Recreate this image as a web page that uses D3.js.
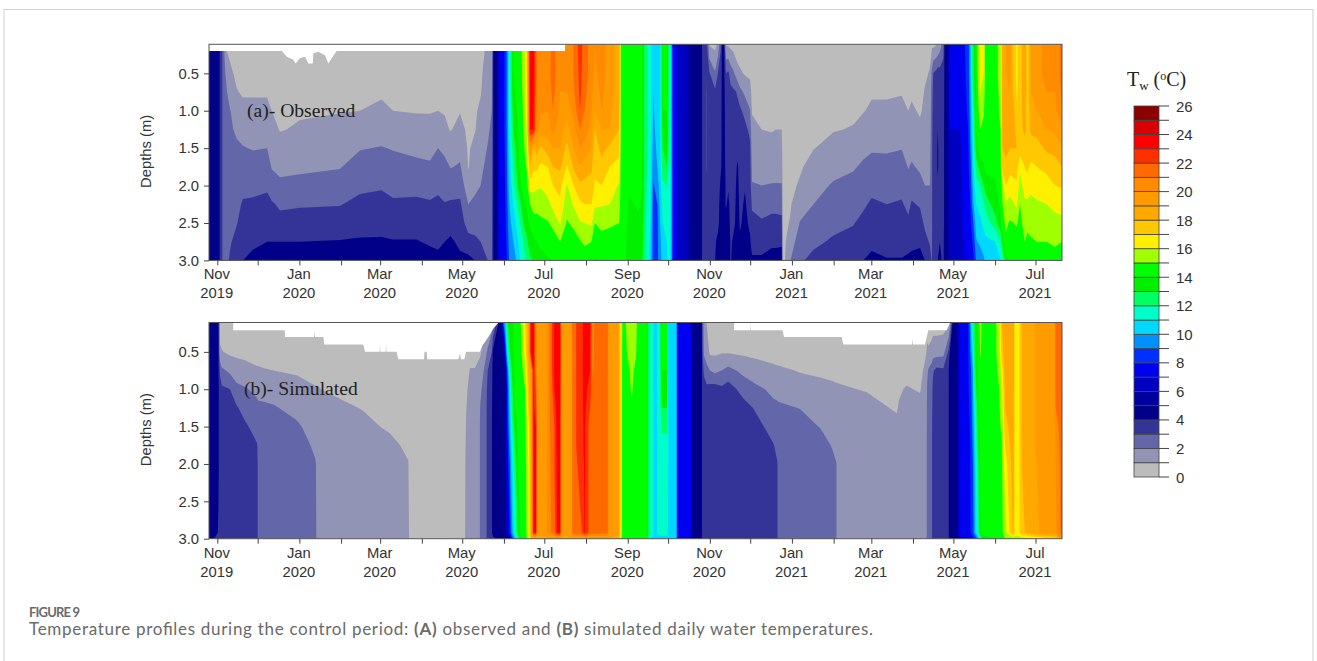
<!DOCTYPE html>
<html><head><meta charset="utf-8">
<script src="https://cdnjs.cloudflare.com/ajax/libs/d3/7.8.5/d3.min.js"></script>
<style>html,body{margin:0;padding:0;background:#fff}svg{display:block}</style></head>
<body><svg id="c" width="1317" height="661"></svg>
<script>
// Water temperature (deg C). First entry of a profile: days since 1 Nov 2019.
const obsDepths=[0.11,0.5,0.75,1,1.25,1.5,1.75,2,2.25,2.5,2.75,3];
const obsProfiles=[
[-6.2,4.6,4.6,4.6,4.6,4.6,4.6,4.6,4.6,4.6,4.6,4.6,4.6],
[1,4.5,4.5,4.5,4.5,4.5,4.5,4.5,4.5,4.5,4.5,4.5,4.5],
[2.5,3.5,3.5,3.5,3.5,3.5,3.5,3.5,3.5,3.5,3.5,3.5,3.5],
[4,2.9,2.9,2.9,2.9,2.9,2.9,2.9,2.9,2.9,2.9,2.9,2.9],
[6,.9,2,2.2,2.3,2.4,2.5,2.5,2.5,2.6,2.6,2.7,2.7],
[9.4,.7,1.2,1.65,2.05,2.15,2.25,2.35,2.5,2.6,2.7,2.9,3.1],
[14.4,.5,.8,1.05,1.45,1.85,2.15,2.35,2.55,2.75,2.95,3.3,3.6],
[19,.5,.7,.9,1.25,1.65,2.05,2.4,2.75,3.1,3.4,3.7,4],
[26.5,.4,.7,.9,1.25,1.6,1.95,2.35,2.75,3.15,3.5,3.85,4.2],
[37,.4,.7,.9,1.25,1.6,2,2.4,2.85,3.25,3.6,4,4.3],
[40.4,.4,.6,.8,1,1.35,1.7,1.95,2.35,3.15,3.6,4,4.3],
[46.6,.4,.6,.75,.85,.95,1.35,1.75,2.2,2.8,3.4,4,4.4],
[61.4,.4,.6,.75,.9,1.1,1.45,1.8,2.3,2.9,3.45,4,4.5],
[91,.4,.6,.8,.95,1.3,1.7,1.95,2.4,2.95,3.5,4.05,4.5],
[106,.4,.65,.85,1,1.45,1.95,2.35,2.8,3.25,3.65,4.1,4.5],
[122,.4,.7,.9,1.15,1.55,2.05,2.45,2.9,3.3,3.7,4.1,4.5],
[130.6,.4,.65,.85,1,1.45,1.95,2.3,2.7,3.15,3.6,4.05,4.5],
[148,.4,.6,.8,.95,1.3,1.75,2.25,2.7,3.2,3.6,4.05,4.45],
[158,.4,.6,.8,.95,1.25,1.7,2.15,2.65,3.1,3.5,3.9,4.3],
[164,.5,.7,.9,1,1.5,2,2.4,2.8,3.2,3.5,3.85,4.2],
[169,.5,.65,.8,.95,1.15,1.8,2.25,2.6,3.05,3.5,4,4.4],
[173.4,.5,.6,.75,.85,.95,1.45,1.95,2.5,3.15,3.65,4.15,4.5],
[180.4,.5,.7,.85,.95,1.3,1.7,2.1,2.65,3.15,3.45,3.8,4.2],
[186.5,.5,.6,.7,.75,.8,.9,.95,1.3,2,2.6,3.35,4.3],
[191.5,.6,.7,.8,.9,.95,1.25,1.5,1.8,2.2,2.6,3.2,4],
[195.7,.8,.9,.95,1.15,1.4,1.65,1.8,2,2.3,2.65,3,3.9],
[201,1.1,1.3,1.5,1.7,1.85,2.05,2.25,2.4,2.5,2.65,2.8,3],
[204,1,1.6,1.8,2,2.2,2.4,2.5,2.6,2.7,2.75,2.8,2.9],
[205.2,4.2,4.2,4.2,4.2,4.2,4.2,4.2,4.2,4.2,4.2,4.2,4.2],
[208,4.9,4.9,4.9,4.9,4.9,4.9,4.9,4.9,4.9,4.9,4.9,4.9],
[209,7,7,7,7,7,7,7,7,7,7,7,7],
[213,7.8,7.8,7.8,7.8,7.8,7.7,7.6,7.5,7.4,7.4,7.3,7.2],
[215,9,9,9,9,9,8.9,8.8,8.7,8.5,8.3,8.1,7.9],
[216.8,11,11,11,10.9,10.8,10.6,10.4,10.2,9.9,9.6,9.3,9],
[220,14,14,13.8,13.5,13,12.5,12,11.6,11.1,10.5,10,9.3],
[224.7,14.5,14.5,14.5,14.4,14.3,14.2,14.1,13.8,12.5,11.8,11.3,10.9],
[227.4,15.5,15.3,15.2,15.1,15,14.8,14.6,14.3,13.8,13,12,11.6],
[230,17,16.8,16.6,16.4,16.1,15.5,15.1,14.6,14.2,13.6,12.8,12.2],
[232.4,23.5,23.5,23.3,23.2,23.1,20,18,16.5,15,14.2,13.5,12.8],
[235,23.4,23.3,23.2,23.1,23,18,17.2,16.4,15.3,14.7,13.8,13.2],
[237.5,21,21,20.8,20.6,20.3,18.5,17.2,16.2,15.3,14.7,14,13.4],
[240.5,20.5,20.4,20.3,20.2,19.5,17.8,16.8,16.1,15.4,14.8,14.2,13.7],
[245.5,20,20.5,20.3,20,19.5,18.5,17,16.4,15.7,14.9,14.4,13.9],
[249.5,21.5,21.5,21.3,21,20.3,19,18,17,16.3,15.3,14.4,14],
[254.7,20,20,20,19.8,19.5,19,18.2,17.3,16.8,16.1,15,14.4],
[259.8,20.5,20.5,20,19.5,18.6,17.7,16.9,15.9,15.4,14.9,14.4,14],
[264.7,21,21,20.8,20.3,19.6,19,18.1,17,16.1,15.2,14.6,14.2],
[269.5,22.5,22.3,22.2,22,21,20,18.9,17.8,16.8,15.9,14.9,14.3],
[273,21.5,21.5,21.3,21,20.5,19.7,18.5,17.7,17,16,15.2,14.4],
[278,20.5,20.5,20.3,20,19.6,19,18.2,17.6,17,16.2,15,14.4],
[280.5,20,19.8,19.5,19,18,17.5,17.2,16.9,16.2,15,14.3,13.9],
[285.5,20.5,20.5,20.2,20,19,18.3,17.7,17,16.1,15.3,14.6,14.2],
[291.7,19.5,19.5,19.5,19.3,19,17.8,17,16.5,16,15.2,14.4,14],
[298.6,18.5,18.5,18.5,18.2,18,17.5,16.5,15.9,15.5,15,14.8,14.2],
[300,14.6,14.6,14.6,14.6,14.6,14.6,14.5,14.5,14.5,14.4,14.3,14],
[303.5,14.5,14.5,14.5,14.5,14.5,14.5,14.5,14.5,14.4,14.3,14.2,14],
[306,14.5,14.5,14.5,14.5,14.5,14.5,14.5,14.1,13.9,13.6,13.4,13.2],
[313,14.5,14.5,14.5,14.5,14.4,14.4,14.3,14.2,14.1,13.8,13.5,13.3],
[315.5,14,14,14,14,14,14,14,14,13.9,13.7,13.5,13.2],
[318,12.5,12.5,12.5,12.5,12.5,12.5,12.5,12.3,12.3,12.2,12.2,12],
[322,11.2,11.2,11.2,11.2,11.2,11.1,11.1,11,11,10.9,10.7,10.5],
[324,10,10,10,9.9,9.8,9.6,9.3,8.9,8.6,8.5,8.4,8.4],
[327,10.5,10.5,10.5,10.4,10.3,10.2,10,9.4,9,8.8,8.8,8.8],
[329,10.9,10.9,10.9,10.8,10.8,10.7,10.7,10.6,10.3,10,9.7,9.5],
[331,14.2,14.2,14.1,14,13.5,13,12.5,11.8,11.3,11,10.7,10.5],
[334,14,14,14,14,13.9,13.6,13,12,11.5,11.2,11,10.8],
[335.5,12.5,12.5,12.5,12.4,12.3,12.2,12,11.8,11.7,11.6,11.5,11.5],
[337,10.8,10.8,10.8,10.8,10.8,10.8,10.8,10.8,10.8,10.8,10.8,10.8],
[338.5,8,8,8,8,8,8,8,8,8,8,8,8],
[342,7,7,7,7,7,7,7,7,7,7,7,7],
[349,6.5,6.5,6.5,6.5,6.5,6.5,6.5,6.5,6.5,6.5,6.5,6.5],
[350.5,5.2,5.2,5.2,5.2,5.2,5.2,5.2,5.2,5.2,5.2,5.2,5.2],
[359.5,4.5,4.5,4.5,4.5,4.5,4.5,4.5,4.5,4.5,4.5,4.5,4.5],
[360.5,3.7,3.7,3.7,3.7,3.7,3.7,3.7,3.7,3.7,3.7,3.7,3.7],
[363,3.5,3.5,3.5,3.5,3.5,3.5,3.5,3.5,3.5,3.5,3.5,3.5],
[363.7,3.2,3.1,2.9,2.9,2.9,2.9,2.9,3.2,3.3,3.4,3.4,3.4],
[364.4,2.8,3.4,3.5,3.5,3.5,3.5,3.5,3.5,3.5,3.5,3.5,3.5],
[365.6,.9,3.1,3.3,3.4,3.4,3.4,3.5,3.5,3.5,3.5,3.6,3.6],
[369.9,.7,2.1,3.2,3.4,3.5,3.5,3.6,3.6,3.6,3.7,3.9,4],
[372,1.2,3,3.4,3.5,3.6,3.6,3.7,3.7,3.8,3.8,4.2,4.4],
[374,2.8,3.6,3.7,3.7,3.8,3.8,3.9,4.1,4.2,4.3,4.4,4.5],
[375,4.1,4.1,4.1,4.1,4.1,4.1,4.1,4.1,4.2,4.3,4.4,4.5],
[376.5,4.3,4.3,4.3,4.3,4.3,4.3,4.3,4.3,4.3,4.3,4.4,4.5],
[378,.9,3,3.5,3.6,3.7,3.7,3.8,3.9,3.9,4.3,4.4,4.5],
[379.7,.8,3.2,3.4,3.5,3.6,3.7,3.8,3.9,4.2,4.3,4.4,4.4],
[381.5,.7,2.5,3.3,3.4,3.5,3.6,3.6,3.7,3.7,3.8,3.9,3.9],
[383.4,.6,2.2,3.2,3.3,3.4,3.5,3.6,3.7,3.7,3.8,4.1,4.3],
[386.7,.4,1.3,2.9,3.2,3.5,3.8,4.1,4.2,4.3,4.3,4.4,4.5],
[388.4,.4,1.15,2.3,3.2,3.4,3.5,3.6,3.7,3.8,3.9,4.1,4.4],
[392,.4,.9,1.8,2.7,3.3,3.5,3.7,3.95,4.1,4.2,4.3,4.4],
[395.9,.4,.8,1.4,2.05,2.75,3.2,3.4,3.5,3.7,3.85,4.1,4.5],
[397.3,.4,.55,.7,.95,1.2,1.5,1.8,2.05,2.85,3.3,3.75,4.1],
[404.5,.4,.6,.7,.85,1,1.35,1.7,2,2.5,3.15,3.75,4.1],
[412,.4,.6,.7,.8,.95,1.25,1.65,2.05,2.7,3.3,3.9,4.2],
[415,.4,.6,.7,.85,1,1.4,1.7,2.05,2.7,3.3,3.9,4.2],
[419.4,.4,.6,.7,.85,1,1.3,1.65,2.05,2.65,3.25,3.85,4.4],
[420.2,.6,.6,.6,.6,.6,.6,.6,.6,.6,.7,.8,.9],
[422,.4,.45,.5,.5,.55,.6,.65,.7,.75,.85,.95,1],
[425.6,.4,.45,.5,.55,.6,.65,.7,.8,.9,1.05,1.5,1.95],
[433,.4,.5,.55,.6,.7,.8,.9,1.1,1.6,2.05,2.5,2.9],
[443,.4,.5,.6,.7,.85,.97,1.3,1.65,2,2.4,2.85,3.2],
[457.8,.4,.5,.6,.75,.95,1.3,1.7,2.1,2.45,2.8,3.1,3.4],
[472.6,.4,.55,.7,.85,1.05,1.45,1.9,2.3,2.7,2.95,3.3,3.6],
[480,.4,.6,.8,.95,1.35,1.75,2.15,2.5,2.85,3.25,3.6,4],
[486.3,.45,.7,.9,1.15,1.55,1.9,2.3,2.7,3.15,3.5,3.8,4.2],
[497.4,.45,.7,.9,1.15,1.5,1.9,2.25,2.6,3,3.35,3.7,4.05],
[508.6,.45,.75,.95,1.2,1.6,1.97,2.35,2.7,3.1,3.4,3.7,4.05],
[513.5,.45,.7,.85,1,1.3,1.6,1.95,2.35,2.75,3.2,3.65,4.2],
[516,.45,.7,.9,1.1,1.45,1.75,2.1,2.6,3.1,3.5,3.8,4.2],
[522.2,.5,.7,.8,.92,1.15,1.5,1.85,2.3,2.9,3.4,3.9,4.2],
[525.9,.7,.9,1.05,1.15,1.35,1.5,1.75,2,2.5,2.8,3.3,4],
[529.6,.8,1.05,1.2,1.35,1.5,1.65,1.8,2,2.3,2.6,2.9,3.4],
[531,.8,2.2,2.6,2.7,2.8,2.85,2.85,2.9,2.9,2.9,2.9,2.9],
[532,.7,3,3.2,3.3,3.3,3.4,3.4,3.4,3.4,3.5,3.6,3.7],
[534.6,.95,3.3,3.5,3.6,3.7,3.8,3.8,3.7,3.7,3.7,3.7,3.7],
[535.3,1,3.5,3.7,3.8,4,4.1,4.1,3.9,3.8,3.8,3.8,4],
[537,1.5,3.4,3.6,3.6,3.7,3.7,3.7,3.7,3.7,3.8,4,4.1],
[539.5,2.5,3.5,3.6,3.6,3.7,3.7,3.7,3.7,3.7,3.8,3.9,3.9],
[540.5,4.2,4.2,4.2,4.2,4.2,4.2,4.2,4.2,4.2,4.2,4.2,4.2],
[541,4.6,4.6,4.6,4.6,4.6,4.6,4.6,4.6,4.6,4.6,4.6,4.6],
[543,4.95,4.95,4.95,4.95,4.95,4.95,4.95,4.95,4.95,4.95,4.95,4.95],
[544,7.5,7.5,7.3,7.2,7,6.9,6.8,6.7,6.6,6.5,6.4,6.3],
[552,7.2,7,7,7,7,6.9,6.9,6.8,6.8,6.8,6.7,6.6],
[558,8.5,8.5,8.3,8.2,8,7.9,7.8,7.7,7.6,7.5,7.4,7.3],
[559.5,10,9.9,9.7,9.5,9.3,9,8.6,8.3,8,7.8,7.6,7.5],
[561.8,13,12.8,12.5,12,11.7,11.2,10.9,10.5,9.9,9,8.2,7.8],
[564,14.3,14.3,14.2,14.1,14,13.5,12.5,11.6,11,10.5,9.9,9.2],
[566.8,16.3,16.1,16,15.5,15,14.5,13.5,12,11.3,10.8,10.2,9.4],
[569.5,16.2,16,15.5,15.1,14.8,14.3,13.9,13,11.9,11.2,10.6,9.8],
[571,14.4,14.4,14.4,14.4,14.4,14.3,14.2,13.6,12.3,11.5,10.8,10.2],
[578,14.5,14.5,14.5,14.5,14.5,14.4,14.2,13.9,13.6,12.5,11,10.8],
[582,15.5,15.5,15.3,15.2,15,14.8,14.6,14.4,14.1,13.8,12,10.9],
[583.5,18.5,18.5,18.5,18.5,18.2,18,17.6,15.5,15,14.6,13.5,11.5],
[586,19,19,18.8,18.7,18.5,18.2,17.8,17,15.8,15.2,14.8,13.7],
[589,19.5,19.3,19,18.8,18.4,18,17.3,16.6,15.6,14.9,14.6,14.1],
[591.8,17.5,17.5,17.8,18.2,18.4,18,17.4,16.7,15.9,15,14.6,14.2],
[594,16.8,16.8,16.9,17.1,17.6,18,17.5,16.8,16.2,15.1,14.6,14.2],
[596.5,17.4,17.4,17.4,17.5,17.6,17.5,16.2,15.6,15,14.7,14.4,14.2],
[600,19,19,18.8,18.6,18.3,17.5,17,16.4,15.8,15.4,15,14.1],
[602,16.9,16.9,17,17.2,17.5,17.5,17.2,16.6,15.8,15.2,14.8,14.2],
[604.5,19,19,19,18.5,18.2,17.5,16.8,16.3,15.7,15.3,14.9,14.2],
[608.9,19.5,19.5,19.2,19,18.3,17.6,17,16.6,15.8,15.4,15,14.1],
[616.3,20.5,20.5,20,19.5,19,18.2,17.2,16.7,16,15.5,15,14.2],
[622.5,20.3,20.3,20,19.8,19.2,18.3,17.6,17,16.3,15.6,15.2,14.5],
[627.7,21.3,21.3,21.2,21,19.5,19,18,17.1,16.3,15.8,15,14.4]
];
const simDepths=[0.11,0.5,0.75,1,1.25,1.5,1.75,2,2.92,3];
const simProfiles=[
[-6.2,4.6,4.6,4.6,4.6,4.6,4.6,4.6,4.6,4.6,4.6],
[-2.4,4.5,4.5,4.5,4.5,4.5,4.5,4.5,4.5,4.3,4],
[.8,4.1,4.1,4.1,4.1,4.1,4.1,4.1,4.1,3.95,3.5],
[2,.7,1.1,2.8,3.6,3.7,3.7,3.7,3.7,3.7,3.7],
[3.3,.5,1.05,2.2,3.2,3.5,3.6,3.6,3.6,3.6,3.6],
[9.4,.3,.8,1.8,3,3.3,3.5,3.6,3.6,3.6,3.6],
[14.4,.3,.8,1.4,2.3,3.1,3.3,3.5,3.6,3.7,3.7],
[20.6,.3,.75,1.3,2.1,2.65,3.15,3.4,3.5,3.6,3.6],
[29.5,.3,.7,1.1,1.75,2.3,2.65,3.05,3.1,3.1,3.1],
[30.2,.3,.7,1.1,1.7,2.2,2.6,2.9,2.95,2.95,2.95],
[34.2,.3,.7,1.05,1.6,2.2,2.5,2.6,2.6,2.6,2.6],
[41.6,.3,.6,1,1.55,2.1,2.4,2.5,2.5,2.5,2.5],
[59,.3,.55,.9,1.3,1.7,2.15,2.3,2.4,2.4,2.4],
[72.6,.3,.5,.8,1.05,1.4,1.6,1.9,2.05,2.1,2.1],
[74,.3,.5,.8,1.05,1.35,1.55,1.8,1.95,1.95,1.95],
[83.7,.3,.5,.7,.9,1.3,1.6,1.75,1.8,1.8,1.8],
[108.5,.3,.45,.6,.8,.95,1.25,1.5,1.6,1.6,1.6],
[128.3,.3,.4,.5,.6,.7,.85,1.25,1.4,1.45,1.45],
[141.9,.3,.35,.4,.5,.6,.7,.8,1.05,1.3,1.3],
[143,.3,.35,.4,.45,.5,.55,.6,.65,.7,.75],
[170,.3,.4,.5,.5,.6,.6,.6,.7,.7,.8],
[184,.3,.5,.6,.6,.6,.7,.8,.9,.95,.95],
[185,.3,.5,.7,.9,.98,1.1,1.2,1.2,1.2,1.2],
[187.8,.4,.7,1.05,1.2,1.3,1.4,1.4,1.4,1.4,1.4],
[191.5,.4,.7,1.05,1.3,1.5,1.6,1.6,1.6,1.6,1.6],
[195,.5,.85,1.3,1.6,1.9,1.95,1.95,1.95,1.95,1.95],
[195.6,.5,.9,1.4,1.8,2.1,2.2,2.2,2.2,2.2,2.2],
[200,.7,1.9,2.5,2.9,2.95,2.95,2.95,2.95,2.95,2.95],
[201,.8,2.2,3,3.2,3.3,3.3,3.3,3.3,3.3,3.3],
[204,1.5,3,3.7,3.8,3.9,3.95,3.95,3.95,3.95,3.8],
[204.8,1.8,4.2,4.3,4.3,4.3,4.3,4.3,4.3,4.3,3.8],
[208.9,4,4.6,4.6,4.6,4.6,4.6,4.6,4.6,4.6,4.2],
[210.8,5,4.7,4.7,4.7,4.7,4.7,4.7,4.7,4.7,4.5],
[212.6,9,5,4.8,4.8,4.8,4.8,4.8,4.8,4.8,4.6],
[213.8,10,7.5,5,5,5,5,5,5,4.9,4.7],
[215,12.5,10,8,7.5,7.5,7.4,7.2,7,6.5,5],
[216.8,13.5,12.5,11,10,9.8,9.5,9,8.5,7.5,5.5],
[218.7,13.8,13.8,13,12.5,12,11.5,11,10.5,9.5,8],
[221.2,14.2,14.2,14.2,14.1,13.9,13.5,13,12.5,11.5,10],
[223.7,14.5,14.5,14.5,14.5,14.4,14.3,14.2,14.1,13.5,12.5],
[226.2,15.2,15,14.8,14.7,14.6,14.5,14.5,14.5,14.3,14.1],
[228.7,17,16.5,15.5,15,14.9,14.8,14.7,14.6,14.5,14.4],
[231.1,18.5,18.5,18.2,17.7,17.2,16.5,16.2,16,15.8,15.5],
[233.1,23.5,23.5,19.5,19.2,19,18.8,18.7,18.6,18.5,18],
[235,23.5,23.5,23.2,23.2,23.2,23.2,23.2,23.2,23,18.5],
[236.8,20.5,20.5,21,21.8,22.4,23,23,23,23,18.5],
[238,19.5,19.5,19.5,19.5,19.5,19.5,19.6,19.6,19.5,18.3],
[244,19.5,19.5,19.5,19.5,19.5,19.5,19.5,19.5,19.5,18.8],
[246,20.6,20.6,20.6,20.6,20.6,20.6,20.6,20.6,20.6,19],
[249.7,22.5,22.5,22.5,22.3,22,21.8,21.7,21.6,21.3,19],
[250.5,23.4,23.4,23.4,23,22.5,22,22,22,21.5,19],
[252.5,23.4,23.4,23.4,23.4,23.4,23.4,23.4,23.2,23.1,19.5],
[254.7,23.2,23.2,23.2,23.1,23.1,23,23,23,23,19],
[256,19.6,19.6,19.6,19.6,19.6,19.6,19.6,19.6,19.6,19],
[259,19.1,19.1,19.1,19.1,19.1,19.1,19.1,19.1,19.1,18.8],
[263,19.6,19.6,19.6,19.6,19.6,19.6,19.6,19.6,19.6,19],
[264,21.5,21.5,21.5,21.5,21.5,21.5,21.5,21.5,21.5,19],
[271,22.8,22.8,22.8,22.8,22.8,22.8,22.8,22.5,22,19],
[273,23.4,23.4,23.4,23.4,23.3,23.2,23.2,23.2,23.1,19],
[277,23.2,23.1,23,22.5,22,21.5,21.5,21.5,21.5,19],
[279,20.5,20.5,20.8,21.3,21.5,21.5,21.5,21.5,21.5,19],
[281,21.5,21.5,21.5,21.5,21.5,21.5,21.5,21.5,21.5,19],
[290,21.3,21.3,21.3,21.3,21.3,21.3,21.3,21.3,21.3,19],
[291,19.6,19.6,19.6,19.6,19.6,19.6,19.6,19.6,19.6,19],
[298,19.2,19.2,19.2,19.2,19.2,19.2,19.2,19.2,19.2,18.5],
[299.5,17,17,17,17,17,17,17,17,17,16.5],
[301,15,14.8,14.7,14.7,14.7,14.7,14.7,14.7,14.7,14.4],
[302.5,14.7,14.7,14.6,14.6,14.6,14.6,14.6,14.6,14.6,14.4],
[305,15.4,15.1,14.8,14.7,14.6,14.5,14.5,14.5,14.5,14.5],
[308,15.4,15.3,15.2,15.1,14.9,14.6,14.5,14.5,14.5,14.3],
[311,15.3,15.1,14.8,14.6,14.5,14.5,14.5,14.5,14.5,14.3],
[313,14.5,14.5,14.5,14.5,14.4,14.4,14.4,14.4,14.4,14.2],
[319,14,14,14,14,14,14,14,14,14,14],
[320.5,12.5,12.5,12.5,12.5,12.5,12.5,12.5,12.5,12.5,12],
[322,11.7,11.7,11.7,11.7,11.7,11.7,11.7,11.7,11.7,11],
[323.6,11.4,11.4,11.4,11.4,11.4,11.4,11.4,11.4,11.4,10.5],
[324.5,10.7,10.7,10.7,10.7,10.7,10.7,10.7,10.7,10.7,10],
[326.5,10.7,10.7,10.7,10.7,10.7,10.7,10.7,10.7,10.7,10],
[327.5,11.5,11.5,11.5,11.5,11.5,11.5,11.5,11.5,11.5,10.3],
[329,12.2,12.2,12,11.9,11.8,11.7,11.6,11.5,11.5,10.4],
[330.5,14.2,14.2,14,13.8,13,12.2,11.7,11.5,11.5,10.5],
[334,14.1,14.1,14,13.8,13,12.2,11.7,11.5,11.5,10.5],
[335.1,11,11,11,11,11,11,11,11,10.8,10.2],
[336,10.6,10.6,10.6,10.6,10.6,10.6,10.6,10.6,10.6,10.2],
[341,10.4,10.4,10.4,10.4,10.4,10.4,10.4,10.4,10.4,10.2],
[341.8,8,8,8,8,8,8,8,8,8,8],
[352,7.2,7.2,7.2,7.2,7.2,7.2,7.2,7.2,7.2,7.2],
[352.5,6,6,6,6,6,6,6,6,6,6],
[353,5,5,5,5,5,5,5,5,5,5],
[360,4.6,4.6,4.6,4.6,4.6,4.6,4.6,4.6,4.6,4.6],
[360.2,3.5,3.5,3.5,3.5,3.5,3.5,3.5,3.5,3.5,3.5],
[361.7,1.4,1.8,2.8,3.4,3.5,3.5,3.5,3.5,3.5,3.5],
[363.7,.95,1.6,2.2,3.3,3.5,3.5,3.5,3.5,3.5,3.5],
[366.1,.4,.8,2,3.4,3.5,3.5,3.5,3.5,3.5,3.5],
[369.8,.4,.8,1.75,3.5,3.5,3.5,3.5,3.5,3.5,3.5],
[374.8,.4,.9,2,3.2,3.5,3.5,3.5,3.5,3.5,3.5],
[379.7,.4,.9,2.3,3.5,3.6,3.6,3.6,3.6,3.6,3.6],
[390.9,.4,.8,1.75,2.6,3.4,3.5,3.5,3.5,3.5,3.5],
[400.8,.4,.75,1.4,2.2,2.85,3.3,3.5,3.5,3.5,3.5],
[413.2,.3,.65,1.2,1.8,2.2,2.6,3.05,3.2,3.2,3.2],
[416,.3,.6,1.15,1.7,2.2,2.5,2.8,3.05,3.05,3.05],
[416.8,.3,.6,1.15,1.7,2.15,2.45,2.7,2.9,2.9,2.9],
[433,.3,.6,.95,1.4,1.98,2.3,2.6,2.6,2.6,2.6],
[447.9,.3,.55,.85,1.25,1.65,1.97,2.4,2.5,2.5,2.5],
[457.8,.3,.5,.8,1.15,1.4,1.65,1.9,2.15,2.15,2.15],
[460,.3,.5,.8,1.1,1.35,1.6,1.8,2.02,2.02,2.02],
[460.6,.3,.5,.8,1.1,1.3,1.5,1.7,1.9,1.9,1.9],
[482.6,.3,.5,.7,.95,1.25,1.5,1.6,1.6,1.6,1.6],
[504.9,.3,.45,.6,.75,.92,1.2,1.4,1.5,1.5,1.5],
[506.5,.3,.45,.6,.85,1.1,1.3,1.4,1.5,1.5,1.5],
[509.8,.3,.5,.75,1,1.3,1.4,1.5,1.5,1.5,1.5],
[512.3,.3,.5,.8,1.05,1.3,1.5,1.5,1.5,1.5,1.5],
[522.2,.3,.5,.7,.95,1.2,1.4,1.5,1.5,1.5,1.5],
[525.9,.3,.8,1.2,1.3,1.5,1.5,1.6,1.6,1.6,1.6],
[527,.4,1,1.4,1.5,1.6,1.6,1.7,1.7,1.7,1.9],
[527.5,.6,1.2,1.8,2.1,2.3,2.3,2.4,2.4,2.4,2.4],
[528.4,.6,1.1,2.1,2.3,2.4,2.4,2.4,2.4,2.4,2.4],
[531,.6,1.3,2.5,2.7,2.8,2.9,2.9,2.9,2.9,2.9],
[531.8,.6,1.5,2.9,3.2,3.3,3.4,3.4,3.4,3.4,3.4],
[534.6,.6,1.5,3.3,3.4,3.5,3.5,3.5,3.5,3.5,3.5],
[539.5,.6,1.6,3.2,3.5,3.6,3.7,3.7,3.7,3.7,3.7],
[543.2,.7,3.1,3.9,3.9,3.9,3.9,3.9,3.9,3.9,3.9],
[544.5,1.5,4.2,4.3,4.3,4.3,4.3,4.3,4.3,4.3,4.2],
[546.9,4.8,4.8,4.8,4.8,4.8,4.8,4.8,4.8,4.8,4.6],
[550.5,4.9,4.9,4.9,4.9,4.9,4.9,4.9,4.9,4.9,4.7],
[551,7.3,7.3,7.3,7.3,7.3,7.3,7.3,7.3,7.3,6],
[558,7.9,7.9,7.9,7.9,7.8,7.7,7.6,7.6,7.5,7.4],
[559.5,9.5,9,8.5,8.3,8.2,8.1,8,8,7.9,7.7],
[561.5,12.5,11,10,9.8,9.6,9.4,9.2,9,8.6,7.8],
[563,13,13,12.8,12.4,11.5,11,10.7,10.4,10,8.2],
[565.5,14.5,14.3,14.2,14,13.8,13.5,13.2,12.8,12,9.8],
[567,15.3,15.1,14.8,14.6,14.5,14.3,14.2,14.1,13.8,11.5],
[568.9,14.7,14.7,14.6,14.5,14.5,14.5,14.4,14.4,14.3,13.5],
[578.4,14.9,14.9,14.8,14.7,14.6,14.5,14.5,14.5,14.5,14.1],
[581,15.5,15.4,15.2,15,14.9,14.8,14.7,14.6,14.6,14.4],
[583,18,17.6,16.5,16,15.5,15.2,15,14.9,14.8,14.6],
[585.4,18.5,18.5,18.4,18.2,18,17.6,17,16.5,15.5,15],
[591.5,18.8,18.8,18.8,18.8,18.7,18.7,18.6,18.5,18.2,15.5],
[592.5,16.9,16.9,16.9,16.9,16.9,16.9,16.9,16.9,16.9,15.2],
[596,16.9,16.9,16.9,16.9,16.9,16.9,16.9,16.9,16.9,15.3],
[597,17.9,17.9,17.9,17.9,17.9,17.9,17.9,17.9,17.6,15.5],
[604,18.8,18.8,18.8,18.8,18.8,18.8,18.8,18.7,18.5,16],
[613.6,19.3,19.3,19.3,19.3,19.3,19.3,19.3,19.3,19.2,16.5],
[622,19.5,19.5,19.5,19.5,19.5,19.5,19.5,19.5,19.5,17],
[623,21.3,21.3,21.3,21.3,21,20.5,20.3,20,19.8,17],
[627.7,22,22,22,22,21.8,21.6,21.5,21.5,21.5,20]
];
// Depth of the no-data (white) zone at the top of each panel, by day
const obsGapDays=[-6.2,47.8,47.9,51.6,56.5,58.2,61.4,65.2,67.7,70.9,71.4,75,80,82.5,85,88.7,258.4,258.5];
const obsGapDepth=[.2,.2,.2,.28,.32,.37,.3,.28,.37,.37,.23,.21,.26,.37,.3,.2,.2,.11];
const simGapDays=[11.8,11.9,50.2,50.3,71.8,72.1,72.5,78.8,79.5,108.5,109.8,120.6,120.9,121.2,125.1,125.4,125.7,133.3,134.5,153.6,154,155.6,156,179.1,180.4,181,183.6,184.8,195.2,196.4,201.4,205,208.8,384,384.1,396.2,396.4,396.6,420.1,421.1,464,465.2,516.3,516.7,517,525.9,528.4,542,544.5];
const simGapDepth=[.11,.21,.21,.3,.3,.22,.3,.3,.4,.4,.5,.5,.41,.5,.5,.41,.5,.5,.6,.6,.5,.5,.6,.6,.52,.6,.6,.5,.5,.43,.3,.19,.11,.11,.21,.21,.11,.21,.21,.3,.3,.4,.4,.32,.4,.4,.21,.21,.11];
const tickMonths=["2019-11","2019-12","2020-01","2020-02","2020-03","2020-04","2020-05","2020-06","2020-07","2020-08","2020-09","2020-10","2020-11","2020-12","2021-01","2021-02","2021-03","2021-04","2021-05","2021-06","2021-07"];
const monthLabels=["Nov","","Jan","","Mar","","May","","Jul","","Sep","","Nov","","Jan","","Mar","","May","","Jul"];
const yearLabels=["2019","","2020","","2020","","2020","","2020","","2020","","2020","","2021","","2021","","2021","","2021"];
const depthTicks=[0.5,1,1.5,2,2.5,3];
const levels=d3.range(0,26);
const levelColors=["#bcbcbc","#9194b4","#6366a8","#343498","#000088","#00009f","#0000c0","#0000f0","#0030ff","#0090ff","#00d8ff","#00ffc8","#00ff60","#00f000","#00ff00","#a0ff00","#fff000","#ffc800","#ffa800","#ff9a00","#ff8c00","#ff6a00","#ff3000","#ff0000","#d80000","#8b0000"];
const legendTicks=d3.range(0,27);
const legendLabels=d3.range(0,27,2);

const svg=d3.select("#c");
const ink="#333";
const sans="'Liberation Sans',Arial,sans-serif", serif="'Liberation Serif','Times New Roman',serif";
const dayToDate=d=>new Date(Date.UTC(2019,10,1)+d*864e5);
const x=d3.scaleUtc().domain([dayToDate(-6.17),dayToDate(627.7)]).range([209,1062]);

// page card
svg.append("path").attr("d","M4 661V9.5H1313V661").attr("fill","none").attr("stroke","#d0d0d0");

function panel(id,depths,profiles,gapDays,gapDepth,top,bottom,label,lx,ly,yTop){
  const g=svg.append("g");
  const y=d3.scaleLinear().domain([yTop,3]).range([top,bottom]);
  const days=profiles.map(p=>p[0]);
  const n=days.length,m=depths.length;
  const flat=new Array(n*m);
  profiles.forEach((p,i)=>{for(let j=0;j<m;j++)flat[i+j*n]=p[j+1];});
  const xPix=days.map(d=>x(dayToDate(d))), yPix=depths.map(d=>y(d));
  const xi=d3.scaleLinear().domain([0,...d3.range(n).map(i=>i+.5),n]).range([xPix[0],...xPix,xPix[n-1]]);
  const yi=d3.scaleLinear().domain([0,...d3.range(m).map(i=>i+.5),m]).range([yPix[0],...yPix,yPix[m-1]]);
  const proj=d3.geoTransform({point(a,b){this.stream.point(xi(a),yi(b));}});
  const path=d3.geoPath(proj);
  svg.append("clipPath").attr("id",id).append("rect").attr("x",209).attr("y",top).attr("width",853).attr("height",bottom-top);
  const cg=g.append("g").attr("clip-path",`url(#${id})`).style("filter","blur(0.45px)");
  cg.selectAll("path.band").data(d3.contours().size([n,m]).thresholds(levels)(flat)).join("path")
    .attr("class","band").attr("d",path).attr("fill",d=>levelColors[d.value]);
  // no-data zone
  const gap=gapDays.map((d,i)=>({d,v:gapDepth[i]}));
  cg.append("path").datum(gap).attr("fill","#fff")
    .attr("d",d3.area().x(p=>x(dayToDate(p.d))).y0(top-1).y1(p=>y(p.v))(gap));
  // frame
  g.append("rect").attr("x",209).attr("y",top).attr("width",853).attr("height",bottom-top).attr("fill","none").attr("stroke","#555").attr("stroke-width",1);
  // axes
  const tickDates=tickMonths.map(s=>new Date(s+"-01T00:00:00Z"));
  const ax=g.append("g").attr("transform",`translate(0,${bottom})`).call(d3.axisBottom(x).tickValues(tickDates).tickSize(5).tickFormat(""));
  ax.select(".domain").remove(); ax.selectAll("line").attr("stroke","#444");
  const ay=g.append("g").attr("transform","translate(209,0)").call(d3.axisLeft(y).tickValues(depthTicks).tickSize(5).tickFormat(d3.format(".1f")));
  ay.select(".domain").remove(); ay.selectAll("line").attr("stroke","#444");
  ay.selectAll("text").attr("font-family",sans).attr("font-size",14.8).attr("fill",ink).attr("x",-10);
  const lab=g.append("g").attr("font-family",sans).attr("font-size",14.8).attr("fill",ink).attr("text-anchor","middle");
  lab.selectAll("text.m").data(tickDates.map((d,i)=>({d,t:monthLabels[i]})).filter(o=>o.t)).join("text").attr("class","m").attr("x",o=>x(o.d)-.5).attr("y",bottom+19).text(o=>o.t);
  lab.selectAll("text.yr").data(tickDates.map((d,i)=>({d,t:yearLabels[i]})).filter(o=>o.t)).join("text").attr("class","yr").attr("x",o=>x(o.d)-.5).attr("y",bottom+38).text(o=>o.t);
  g.append("text").attr("transform",`translate(151,${(top+bottom)/2-1}) rotate(-90)`).attr("text-anchor","middle").attr("font-family",sans).attr("font-size",14.8).attr("fill",ink).text("Depths (m)");
  g.append("text").attr("x",lx).attr("y",ly).attr("font-family",serif).attr("font-size",19.6).attr("fill","#222").text(label);
}
panel("clipA",obsDepths,obsProfiles,obsGapDays,obsGapDepth,44.3,260.4,"(a)- Observed",247,117,.112);
panel("clipB",simDepths,simProfiles,simGapDays,simGapDepth,322.5,538.7,"(b)- Simulated",244,395,.107);

// legend
const ly=d3.scaleLinear().domain([0,26]).range([477,106]);
const lg=svg.append("g");
lg.selectAll("rect").data(levels).join("rect").attr("x",1134).attr("width",25)
  .attr("y",d=>ly(d+1)).attr("height",d=>ly(d)-ly(d+1)).attr("fill",d=>levelColors[d]).attr("stroke","#444").attr("stroke-width",.8);
lg.selectAll("line").data(legendTicks).join("line").attr("x1",1159).attr("x2",1169).attr("y1",d=>ly(d)).attr("y2",d=>ly(d)).attr("stroke","#444");
lg.selectAll("text").data(legendLabels).join("text").attr("x",1176).attr("y",d=>ly(d)+5.5).attr("font-family",sans).attr("font-size",15).attr("fill",ink).text(d=>d);
const tt=svg.append("text").attr("x",1127).attr("y",86).attr("font-family",serif).attr("font-size",20).attr("fill","#222");
tt.append("tspan").text("T");
tt.append("tspan").attr("font-size",13).attr("dy",4).text("w");
tt.append("tspan").attr("dy",-4).text(" (");
tt.append("tspan").attr("font-size",12).attr("dy",-6).text("o");
tt.append("tspan").attr("dy",6).text("C)");

// caption
const capFont="Lato,'Open Sans',sans-serif";
svg.append("text").attr("x",29).attr("y",616.5).attr("font-family",capFont).attr("font-size",13).attr("font-weight",700).attr("fill","#6a6a6a").attr("textLength",51).text("FIGURE 9");
const cap=svg.append("text").attr("x",29).attr("y",635).attr("font-family",capFont).attr("font-size",17).attr("fill","#6a6a6a").attr("textLength",844);
cap.append("tspan").text("Temperature profiles during the control period: ");
cap.append("tspan").attr("font-weight",700).text("(A)");
cap.append("tspan").text(" observed and ");
cap.append("tspan").attr("font-weight",700).text("(B)");
cap.append("tspan").text(" simulated daily water temperatures.");
</script></body></html>
